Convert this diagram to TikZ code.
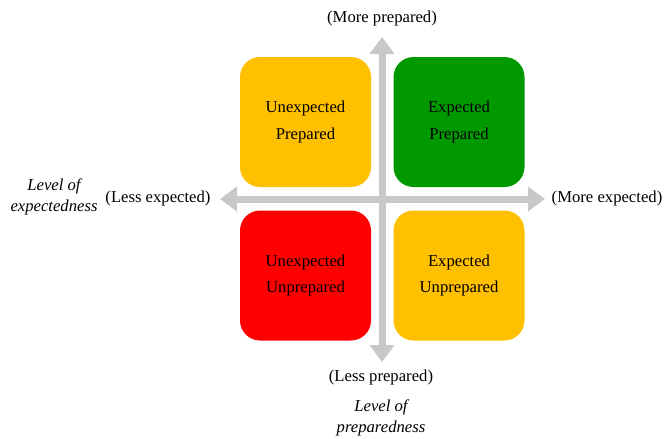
\documentclass[tikz,border=0pt]{standalone}
\usepackage{fontspec}
\setmainfont{Liberation Serif}
\usetikzlibrary{arrows.meta}
\definecolor{qorange}{RGB}{255,192,0}
\definecolor{qgreen}{RGB}{0,153,0}
\definecolor{qred}{RGB}{255,0,0}
\definecolor{axisgray}{RGB}{200,200,200}
\tikzset{
  quad/.style={rounded corners=20*0.75pt, minimum width=131*0.75pt, minimum height=130*0.75pt,
    inner sep=0pt, align=center, font=\fontsize{12.5}{20}\selectfont},
  axis/.style={draw=axisgray, line width=7*0.75pt,
    arrows={Triangle[width=24*0.75pt,length=17*0.75pt]-Triangle[width=24*0.75pt,length=17*0.75pt]}},
  lbl/.style={font=\fontsize{12.5}{15}\selectfont, inner sep=0pt},
  ttl/.style={font=\fontsize{12.5}{15.5}\selectfont\itshape, align=center, inner sep=0pt}
}
\begin{document}
\begin{tikzpicture}[x=0.75pt,y=-0.75pt]
\useasboundingbox (0,0) rectangle (665,439);
% axes
\coordinate (vtop) at (382,37);
\coordinate (vbot) at (382,362);
\coordinate (hleft) at (220,199);
\coordinate (hright) at (545,199);
\draw[axis] (vbot) -- (vtop);
\draw[axis] (hleft) -- (hright);
% quadrants
\node[quad, fill=qorange] (ul) at (305.5,122) {Unexpected\\Prepared};
\node[quad, fill=qgreen] (ur) at (459,122) {Expected\\Prepared};
\node[quad, fill=qred] (ll) at (305.5,275.5) {Unexpected\\Unprepared};
\node[quad, fill=qorange] (lr) at (459,275.5) {Expected\\Unprepared};
% labels
\node[lbl] (more) at (382,18) {(More prepared)};
\node[lbl] (less) at (381,377) {(Less prepared)};
\node[lbl] (lessexp) at (158,198) {(Less expected)};
\node[lbl] (moreexp) at (607,198) {(More expected)};
\node[ttl] (lexp) at (54,197) {Level of\\expectedness};
\node[ttl] (lprep) at (381,418) {Level of\\preparedness};
\end{tikzpicture}
\end{document}
